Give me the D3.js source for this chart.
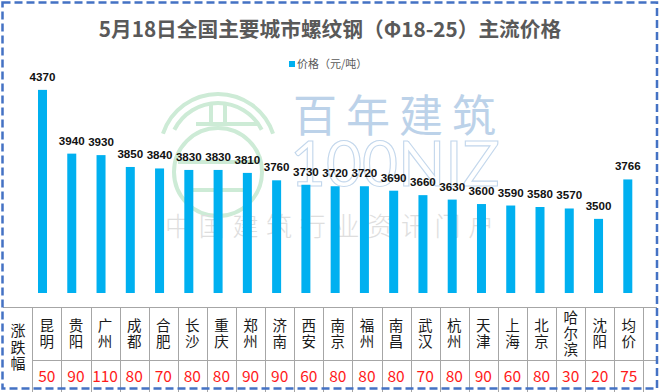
<!DOCTYPE html>
<html><head><meta charset="utf-8">
<script src="https://cdn.jsdelivr.net/npm/d3@7"></script>
<style>html,body{margin:0;padding:0;background:#fff;}svg{display:block;}</style>
</head><body>
<svg id="c" width="661" height="392"></svg>
<script>
const cities = ["昆明","贵阳","广州","成都","合肥","长沙","重庆","郑州","济南","西安","南京","福州","南昌","武汉","杭州","天津","上海","北京","哈尔滨","沈阳","均价"];
const prices = [4370,3940,3930,3850,3840,3830,3830,3810,3760,3730,3720,3720,3690,3660,3630,3600,3590,3580,3570,3500,3766];
const changes = [50,90,110,80,70,80,80,90,90,60,80,80,80,70,80,90,60,80,30,20,75];
const titleText = "5月18日全国主要城市螺纹钢（Φ18-25）主流价格";
const legendText = "价格（元/吨）";
const rowLabel = "涨跌幅";
const yDomain = [3000, 4500];

const svg = d3.select("#c");
const CJK = "'Noto Sans CJK SC','Noto Sans',sans-serif";

// watermark
const wm = svg.append("g");
const g0 = wm.append("g").attr("fill","none").attr("stroke","#cdebd6").attr("stroke-width",4);
const arc = d3.arc();
g0.append("path").attr("transform","translate(218,152)")
  .attr("d", arc({innerRadius:58,outerRadius:58,startAngle:-1.25,endAngle:1.25}));
g0.append("path").attr("transform","translate(218,152)")
  .attr("d", arc({innerRadius:49,outerRadius:49,startAngle:-1.1,endAngle:1.1}));
g0.append("path").attr("d","M211,104 L211,122 M225,104 L225,122 M196,124 L258,124");
g0.append("circle").attr("cx",218).attr("cy",172).attr("r",44);
g0.append("path").attr("d","M178,162 L262,162 M190,190 L246,190");
wm.append("text").attr("x",293).attr("y",132).attr("font-family",CJK).attr("font-size",44)
  .attr("letter-spacing",9).attr("fill","#bcd2e9").text("百年建筑");
wm.append("text").attr("x",290).attr("y",186).attr("font-family","Lato,'DejaVu Sans',sans-serif").attr("font-size",62)
  .attr("fill","none").attr("stroke","#c3d7ec").attr("stroke-width",1.1).text("100NIZ");
wm.append("text").attr("x",165).attr("y",236).attr("font-family",CJK).attr("font-size",26).attr("font-weight",300)
  .attr("letter-spacing",7.7).attr("fill","#dedede").text("中国建筑行业资讯门户");

// title
svg.append("text").attr("x",330).attr("y",37).attr("text-anchor","middle")
  .attr("font-family",CJK).attr("font-weight","bold").attr("font-size",20.7).attr("fill","#595959").text(titleText);

// legend
svg.append("rect").attr("x",289).attr("y",61).attr("width",6).attr("height",6).attr("fill","#00b0f0");
svg.append("text").attr("x",297).attr("y",68).attr("font-family",CJK).attr("font-size",11).attr("fill","#595959").text(legendText);

// scales
const x = d3.scalePoint().domain(cities).range([42.5, 627.8]);
const y = d3.scaleLinear().domain(yDomain).range([293, 70.6]);
const barW = 9;

svg.append("g").selectAll("rect").data(prices).join("rect")
  .attr("x",(d,i)=>x(cities[i])-barW/2).attr("y",d=>y(d))
  .attr("width",barW).attr("height",d=>y(yDomain[0])-y(d)).attr("fill","#00b0f0");

svg.append("g").selectAll("text").data(prices).join("text")
  .attr("x",(d,i)=>x(cities[i])).attr("y",d=>y(d)-9).attr("text-anchor","middle")
  .attr("font-family","'Liberation Sans',Arial,sans-serif").attr("font-weight","bold").attr("font-size",11.6)
  .attr("fill","#111").text(d=>d);

// table
const col = d3.scaleBand().domain(cities).range([32.3, 643.4]);
const tTop = 307.5, tMid = 360.5, tBot = 392;
const tg = svg.append("g").attr("stroke","#a6a6a6").attr("stroke-width",1);
tg.append("line").attr("x1",3).attr("x2",657).attr("y1",tTop).attr("y2",tTop);
tg.append("line").attr("x1",32.3).attr("x2",657).attr("y1",tMid).attr("y2",tMid);
const bounds = cities.map(c=>col(c)).concat([col(cities[cities.length-1])+col.bandwidth()]);
tg.selectAll("line.v").data(bounds).join("line").attr("class","v")
  .attr("x1",d=>Math.round(d)+0.5).attr("x2",d=>Math.round(d)+0.5).attr("y1",tTop).attr("y2",tBot);

// row label
svg.append("g").selectAll("text").data(rowLabel.split("")).join("text")
  .attr("x",18).attr("y",(d,i)=>331+i*16.5+5).attr("text-anchor","middle")
  .attr("font-family",CJK).attr("font-size",15).attr("fill","#1a1a1a").text(d=>d);

// city names
const cg = svg.append("g");
cities.forEach((c,i)=>{
  const chars = c.split("");
  const step = 16;
  const cy0 = 334 - (chars.length-1)*step/2;
  chars.forEach((ch,j)=>{
    cg.append("text").attr("x",col(c)+col.bandwidth()/2).attr("y",cy0+j*step+5)
      .attr("text-anchor","middle").attr("font-family",CJK).attr("font-size",14.5)
      .attr("fill","#1a1a1a").text(ch);
  });
});

// change values
svg.append("g").selectAll("text").data(changes).join("text")
  .attr("x",(d,i)=>col(cities[i])+col.bandwidth()/2).attr("y",382)
  .attr("text-anchor","middle").attr("font-family",CJK).attr("font-size",15.5)
  .attr("fill","#ff1a1a").text(d=>d);

// dashed border
svg.append("rect").attr("x",2.5).attr("y",2.5).attr("width",654.5).attr("height",386)
  .attr("fill","none").attr("stroke","#4472c4").attr("stroke-width",2.5).attr("stroke-dasharray","8,4");
</script>
</body></html>
